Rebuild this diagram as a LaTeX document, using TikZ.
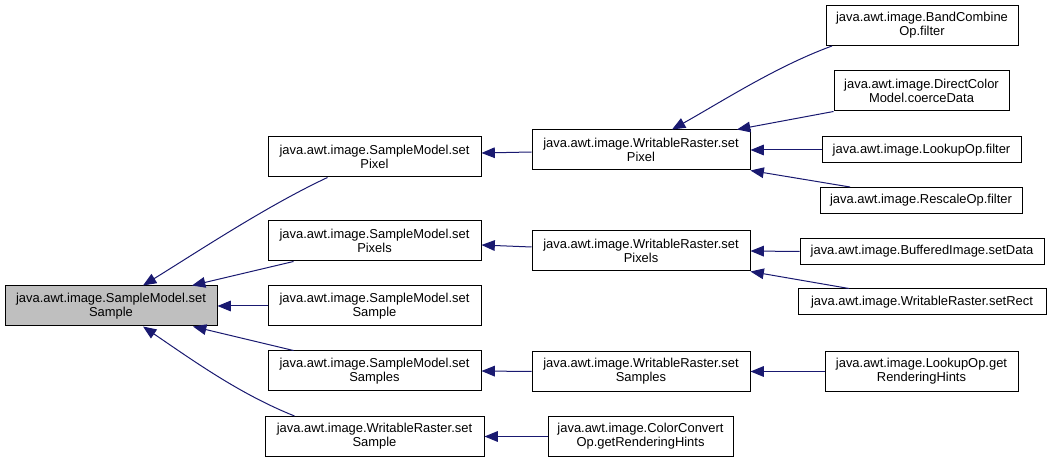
\documentclass[tikz,border=0pt]{standalone}
\usepackage{fontspec}
\setmainfont{Liberation Sans}
\usetikzlibrary{arrows.meta,calc}
\definecolor{edgeblue}{HTML}{191970}
\definecolor{rootgray}{HTML}{BFBFBF}

\begin{document}
\begin{tikzpicture}[x=0.75pt,y=-0.75pt,
  fn/.style={draw=black,line width=0.75pt,fill=white,align=center,inner sep=0pt,
    font=\fontsize{9.7}{10.3}\selectfont},
  boxw/.style={minimum width=#1*0.75pt},
  one/.style={minimum height=26*0.75pt},
  two/.style={minimum height=40*0.75pt},
  call/.style={draw=edgeblue,line width=0.75pt,-{Triangle[length=10pt,width=8pt]}}]
\useasboundingbox (0,0) rectangle (1051,463);
% root
\node[fn,fill=rootgray,boxw=212,two] (root) at (111,306) {java.awt.image.SampleModel.set\\Sample};
% first callers
\node[fn,boxw=213,two] (smPixel) at (374.5,157) {java.awt.image.SampleModel.set\\Pixel};
\node[fn,boxw=213,two] (smPixels) at (374.5,241) {java.awt.image.SampleModel.set\\Pixels};
\node[fn,boxw=213,two] (smSample) at (374.5,306) {java.awt.image.SampleModel.set\\Sample};
\node[fn,boxw=213,two] (smSamples) at (374.5,371) {java.awt.image.SampleModel.set\\Samples};
\node[fn,boxw=219,two] (wrSample) at (374.5,436.5) {java.awt.image.WritableRaster.set\\Sample};
% second callers
\node[fn,boxw=218,two] (wrPixel) at (641,150) {java.awt.image.WritableRaster.set\\Pixel};
\node[fn,boxw=218,two] (wrPixels) at (641,251) {java.awt.image.WritableRaster.set\\Pixels};
\node[fn,boxw=218,two] (wrSamples) at (641,371.5) {java.awt.image.WritableRaster.set\\Samples};
\node[fn,boxw=185,two] (ccOp) at (640.5,436.5) {java.awt.image.ColorConvert\\Op.getRenderingHints};
% outer callers
\node[fn,boxw=192,two] (bandOp) at (922,25.5) {java.awt.image.BandCombine\\Op.filter};
\node[fn,boxw=175,two] (dcModel) at (921.5,91) {java.awt.image.DirectColor\\Model.coerceData};
\node[fn,boxw=199,one] (lookupFilter) at (921.5,150) {java.awt.image.LookupOp.filter};
\node[fn,boxw=202,one] (rescaleFilter) at (921,200.5) {java.awt.image.RescaleOp.filter};
\node[fn,boxw=244,one] (biData) at (922,251.5) {java.awt.image.BufferedImage.setData};
\node[fn,boxw=248,one] (wrRect) at (922,302) {java.awt.image.WritableRaster.setRect};
\node[fn,boxw=193,two] (lookupHints) at (921.5,371.5) {java.awt.image.LookupOp.get\\RenderingHints};
% edges into root
\draw[call] ($(smPixel.south)+(-47,0)$) .. controls +(-60,28) and +(55,-34) .. ($(root.north)+(32,0)$);
\draw[call] ($(smPixels.south)+(-81,0)$) -- ($(root.north)+(81,0)$);
\draw[call] (smSample.west) -- (root.east);
\draw[call] ($(smSamples.north)+(-81,0)$) -- ($(root.south)+(82,0)$);
\draw[call] ($(wrSample.north)+(-80,0)$) .. controls +(-55,-22) and +(50,34) .. ($(root.south)+(32,0)$);
% edges into first callers
\draw[call] ($(wrPixel.west)+(0,2)$) -- ($(smPixel.east)+(0,-4)$);
\draw[call] ($(wrPixels.west)+(0,-4)$) -- ($(smPixels.east)+(0,4)$);
\draw[call] (wrSamples.west) -- (smSamples.east);
\draw[call] (ccOp.west) -- (wrSample.east);
% edges into second callers
\draw[call] ($(bandOp.south)+(-90,0)$) .. controls +(-55,20) and +(50,-28) .. ($(wrPixel.north)+(31,0)$);
\draw[call] (dcModel.south west) -- ($(wrPixel.north)+(96,0)$);
\draw[call] (lookupFilter.west) -- (wrPixel.east);
\draw[call] ($(rescaleFilter.north)+(-71,0)$) -- (wrPixel.south east);
\draw[call] (biData.west) -- (wrPixels.east);
\draw[call] ($(wrRect.north)+(-73,0)$) -- (wrPixels.south east);
\draw[call] (lookupHints.west) -- (wrSamples.east);
\end{tikzpicture}
\end{document}
